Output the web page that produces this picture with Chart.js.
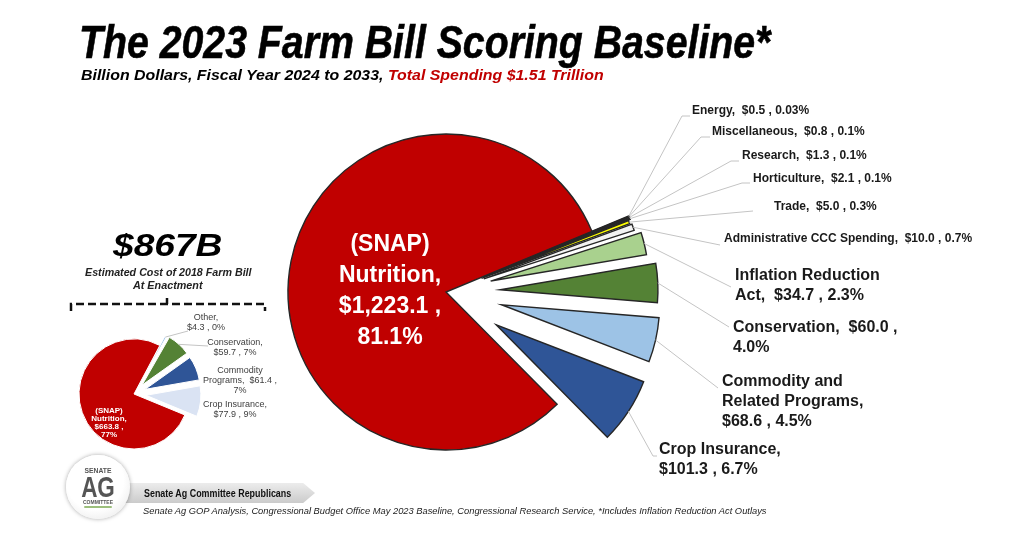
<!DOCTYPE html>
<html>
<head>
<meta charset="utf-8">
<title>The 2023 Farm Bill Scoring Baseline</title>
<script src="https://cdn.jsdelivr.net/npm/chart.js@4.4.1/dist/chart.umd.min.js"></script>
<style>
  html, body { margin: 0; padding: 0; background: #fff; }
  body { width: 1024px; height: 548px; position: relative; overflow: hidden; font-family: "Liberation Sans", Arial, sans-serif; color: #000; }
  canvas { position: absolute; left: 0; top: 0; }
  .txt { position: absolute; white-space: nowrap; transform-origin: left center; }
  .title { font-size: 46px; line-height: 50px; font-weight: bold; font-style: italic; -webkit-text-stroke: 0.6px #000; }
  .sub { font-size: 15px; line-height: 18px; font-weight: bold; font-style: italic; }
  .sub span { color: #c00000; }
  .old-total { font-size: 31px; line-height: 34px; font-weight: bold; font-style: italic; }
  .old-note { font-size: 10px; line-height: 12px; font-weight: bold; font-style: italic; color: #222; }
  .logo { position: absolute; left: 66px; top: 455px; width: 64px; height: 64px; border-radius: 50%;
          background: radial-gradient(circle at 45% 40%, #ffffff 55%, #e2e2e2 100%);
          box-shadow: 0 0 4px rgba(0,0,0,0.35); z-index: 3; text-align: center; color: #555; }
  .logo .s { position: absolute; left: 0; right: 0; top: 11px; font-size: 8px; font-weight: bold; transform: scaleX(0.85); }
  .logo .ag { position: absolute; left: 0; right: 0; top: 19px; font-size: 30px; line-height: 26px; font-weight: bold; transform: scaleX(0.75); }
  .logo .c { position: absolute; left: 0; right: 0; top: 44px; font-size: 5px; font-weight: bold; }
  .logo .sw { position: absolute; left: 18px; top: 51px; width: 28px; height: 2px; background: #9cbf7c; border-radius: 1px; }
  .banner { position: absolute; left: 118px; top: 483px; width: 197px; height: 20px; z-index: 2;
            background: linear-gradient(#ececec, #cbcbcb);
            clip-path: polygon(0 0, 94% 0, 100% 50%, 94% 100%, 0 100%); }
  .band { font-size: 10px; line-height: 12px; font-weight: bold; z-index: 4; color: #111; }
  .foot { font-size: 9px; line-height: 11px; font-style: italic; color: #222; }
  svg { position: absolute; left: 0; top: 0; }
</style>
</head>
<body>
<canvas id="scoring-chart" width="1024" height="548"></canvas>
<canvas id="enactment-chart" width="1024" height="548"></canvas>

<div class="txt title" data-fit="691" style="left:79px; top:17px;">The 2023 Farm Bill Scoring Baseline*</div>
<div class="txt sub" data-fit="523" style="left:81px; top:66px;">Billion Dollars, Fiscal Year 2024 to 2033, <span>Total Spending $1.51 Trillion</span></div>

<div class="txt old-total" data-fit="109" style="left:113px; top:229px;">$867B</div>
<div class="txt old-note" data-fit="167" style="left:85px; top:267px;">Estimated Cost of 2018 Farm Bill</div>
<div class="txt old-note" data-fit="69" style="left:133px; top:280px;">At Enactment</div>

<svg width="1024" height="548">
  <path d="M71 311 L71 304 L265 304 L265 311" fill="none" stroke="#111" stroke-width="2.5" stroke-dasharray="8 4"/>
  <path d="M167 304 L167 298" fill="none" stroke="#111" stroke-width="2.5"/>
</svg>

<div class="logo"><div class="s">SENATE</div><div class="ag">AG</div><div class="c">COMMITTEE</div><div class="sw"></div></div>
<div class="banner"></div>
<div class="txt band" data-fit="147" style="left:144px; top:488px;">Senate Ag Committee Republicans</div>
<div class="txt foot" data-fit="623" style="left:143px; top:506px;">Senate Ag GOP Analysis, Congressional Budget Office May 2023 Baseline, Congressional Research Service,  *Includes Inflation Reduction Act Outlays</div>

<script>
// 2023 baseline, FY2024-2033, billion dollars (clockwise, starting after the top gap)
const bigCategories = ['Energy', 'Miscellaneous', 'Research', 'Horticulture', 'Trade',
    'Administrative CCC Spending', 'Inflation Reduction Act', 'Conservation',
    'Commodity and Related Programs', 'Crop Insurance', '(SNAP) Nutrition'];
const bigValues = [0.5, 0.8, 1.3, 2.1, 5.0, 10.0, 34.7, 60.0, 68.6, 101.3, 1223.1];
const bigShares = ['0.03%', '0.1%', '0.1%', '0.1%', '0.3%', '0.7%', '2.3%', '4.0%', '4.5%', '6.7%', '81.1%'];

// 2018 farm bill, cost at enactment
const oldCategories = ['Other', 'Conservation', 'Commodity Programs', 'Crop Insurance', '(SNAP) Nutrition'];
const oldValues = [4.3, 59.7, 61.4, 77.9, 663.8];
const oldShares = ['0%', '7%', '7%', '9%', '77%'];

const bigColors = ['#000000', '#0d0d0d', '#1a1a1a', '#4472c4', '#ffff00', '#f2f2f2',
    '#a9d18e', '#548235', '#9dc3e6', '#2f5597', '#c00000'];
const bigExplode = [40, 40, 40, 40, 38, 40, 46, 54, 57, 60, 0];
const oldColors = ['#9dc3e6', '#548235', '#2f5597', '#dae3f3', '#c00000'];
const oldExplode = [10, 12, 12, 12, 0];

function money(v) {
    return v.toLocaleString('en-US', { minimumFractionDigits: 1, maximumFractionDigits: 1 });
}
const bigText = bigCategories.map((c, i) => `${c},  $${money(bigValues[i])} , ${bigShares[i]}`);
const oldText = oldCategories.map((c, i) => `${c},  $${money(oldValues[i])} , ${oldShares[i]}`);

// stretch header/footer text to the measured widths
document.querySelectorAll('[data-fit]').forEach(el => {
    const k = parseFloat(el.dataset.fit) / el.scrollWidth;
    el.style.transform = `scaleX(${k})`;
});

function wrapText(ctx, text, maxWidth) {
    const words = text.split(' ');
    const lines = [];
    let line = '';
    words.forEach(w => {
        const test = line === '' ? w : line + ' ' + w;
        if (line.trim() !== '' && w !== '' && ctx.measureText(test.trim()).width > maxWidth) {
            lines.push(line.trim());
            line = w;
        } else {
            line = test;
        }
    });
    if (line.trim()) lines.push(line.trim());
    return lines;
}

// slices pulled out of the pie by their own distance, drawn by the arc elements
const explodedSlices = {
    id: 'explodedSlices',
    beforeDatasetDraw(chart, args) {
        const ctx = chart.ctx;
        const shift = chart.data.datasets[args.index].explode || [];
        args.meta.data.forEach((arc, i) => {
            const d = shift[i] || 0;
            const mid = (arc.startAngle + arc.endAngle) / 2;
            ctx.save();
            ctx.translate(Math.cos(mid) * d, Math.sin(mid) * d);
            arc.draw(ctx);
            ctx.restore();
        });
        return false;
    }
};

function sliceLabels(texts, items, style) {
    return {
        id: 'sliceLabels',
        afterDatasetsDraw(chart) {
            const ctx = chart.ctx;
            const meta = chart.getDatasetMeta(0);
            const shift = chart.data.datasets[0].explode;
            items.forEach((item, i) => {
                if (!item) return;
                const arc = meta.data[i];
                const mid = (arc.startAngle + arc.endAngle) / 2;
                const r = shift[i] + arc.outerRadius;
                ctx.save();
                if (item.lead) {
                    ctx.strokeStyle = style.leader;
                    ctx.lineWidth = 1;
                    ctx.beginPath();
                    ctx.moveTo(arc.x + Math.cos(mid) * r, arc.y + Math.sin(mid) * r);
                    ctx.lineTo(item.lead[0], item.lead[1]);
                    if (item.lead[2]) ctx.lineTo(item.lead[2], item.lead[1]);
                    ctx.stroke();
                }
                ctx.font = item.font || style.font;
                ctx.fillStyle = item.color || style.color;
                ctx.textAlign = item.align || style.align;
                ctx.textBaseline = 'middle';
                wrapText(ctx, texts[i], item.width || 1000).forEach((ln, k) => {
                    ctx.fillText(ln, item.x, item.y + k * (item.lh || style.lh));
                });
                ctx.restore();
            });
        }
    };
}

const bigLayout = [
    { x: 692, y: 111, lead: [682, 116, 690] },
    { x: 712, y: 132, lead: [701, 137, 710] },
    { x: 742, y: 156, lead: [731, 161, 739] },
    { x: 753, y: 179, lead: [742, 183, 750] },
    { x: 774, y: 207, lead: [753, 211] },
    { x: 724, y: 239, lead: [720, 245] },
    { x: 735, y: 276, width: 150, lead: [731, 287], font: 'bold 16px "Liberation Sans", Arial' },
    { x: 733, y: 328, width: 175, lead: [729, 327], font: 'bold 16px "Liberation Sans", Arial' },
    { x: 722, y: 382, width: 160, lead: [718, 388], font: 'bold 16px "Liberation Sans", Arial' },
    { x: 659, y: 450, width: 130, lead: [653, 456, 657], font: 'bold 16px "Liberation Sans", Arial' },
    { x: 390, y: 245, width: 140, lh: 31, align: 'center', color: '#ffffff', font: 'bold 23px "Liberation Sans", Arial' }
];

const oldLayout = [
    { x: 206, y: 318, width: 40, lead: [188, 331] },
    { x: 235, y: 343, width: 60, lead: [208, 346] },
    { x: 240, y: 371, width: 80 },
    { x: 235, y: 405, width: 70 },
    { x: 109, y: 411, width: 42, lh: 8, color: '#ffffff', font: 'bold 8px "Liberation Sans", Arial' }
];

new Chart(document.getElementById('scoring-chart'), {
    type: 'pie',
    data: {
        labels: bigCategories,
        datasets: [{
            data: bigValues,
            explode: bigExplode,
            backgroundColor: bigColors,
            borderColor: '#262626',
            borderWidth: 1.4,
            borderJoinStyle: 'miter'
        }]
    },
    options: {
        responsive: false,
        animation: false,
        rotation: 67.4,
        radius: 158,
        layout: { padding: { left: 246, right: 378, top: 92, bottom: 56 } },
        plugins: { legend: { display: false }, tooltip: { enabled: false } }
    },
    plugins: [explodedSlices, sliceLabels(bigText, bigLayout, {
        font: 'bold 12px "Liberation Sans", Arial', color: '#1a1a1a', align: 'left', lh: 20, leader: '#c4c4c4'
    })]
});

new Chart(document.getElementById('enactment-chart'), {
    type: 'pie',
    data: {
        labels: oldCategories,
        datasets: [{
            data: oldValues,
            explode: oldExplode,
            backgroundColor: oldColors,
            borderColor: '#ffffff',
            borderWidth: 1
        }]
    },
    options: {
        responsive: false,
        animation: false,
        rotation: 28,
        radius: 55,
        layout: { padding: { left: 34, right: 790, top: 294, bottom: 54 } },
        plugins: { legend: { display: false }, tooltip: { enabled: false } }
    },
    plugins: [explodedSlices, sliceLabels(oldText, oldLayout, {
        font: '9px "Liberation Sans", Arial', color: '#404040', align: 'center', lh: 10, leader: '#c4c4c4'
    })]
});
</script>
</body>
</html>
